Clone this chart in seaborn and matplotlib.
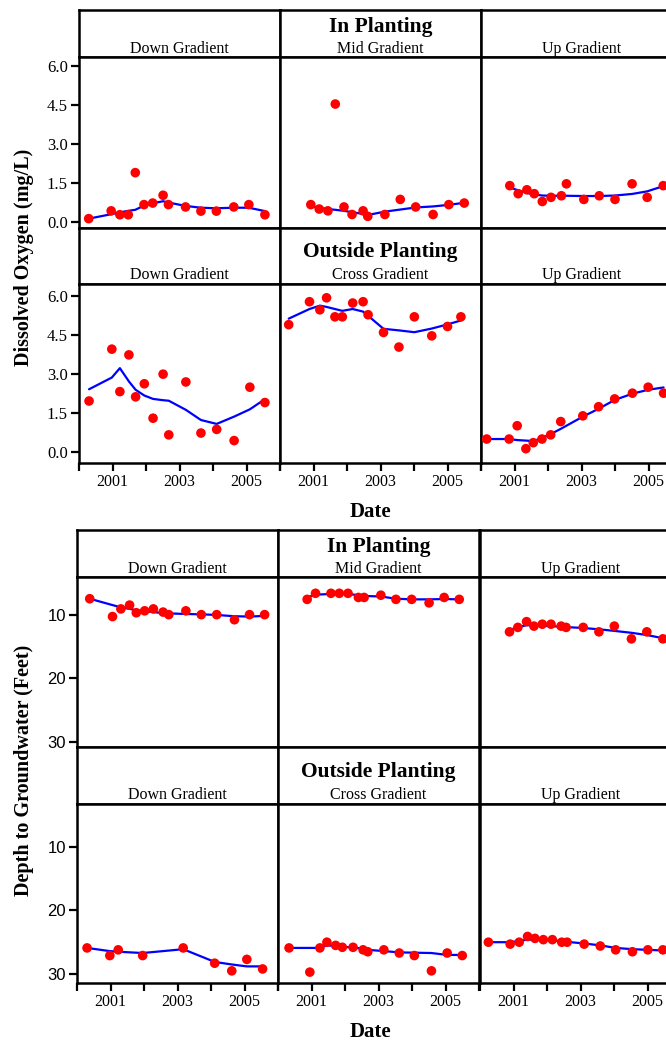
import pandas as pd
import seaborn as sns
import matplotlib.pyplot as plt

# ---------------- Dissolved oxygen (mg/L) ----------------
# In Planting
do_in_down_t = [2000.29, 2000.96, 2001.22, 2001.47, 2001.68, 2001.94, 2002.20, 2002.51,
                2002.67, 2003.18, 2003.64, 2004.10, 2004.62, 2005.07, 2005.55]
do_in_down_y = [0.13, 0.43, 0.28, 0.28, 1.90, 0.67, 0.73, 1.03, 0.67, 0.58, 0.42, 0.42,
                0.58, 0.67, 0.28]
do_in_down_fit = [0.13, 0.30, 0.37, 0.43, 0.47, 0.63, 0.72, 0.80, 0.75, 0.62, 0.55, 0.53,
                  0.55, 0.55, 0.42]

do_in_mid_t = [2000.92, 2001.17, 2001.43, 2001.65, 2001.91, 2002.15, 2002.48, 2002.62,
               2003.13, 2003.59, 2004.05, 2004.57, 2005.04, 2005.50]
do_in_mid_y = [0.67, 0.50, 0.43, 4.54, 0.58, 0.29, 0.43, 0.22, 0.29, 0.87, 0.58, 0.29,
               0.67, 0.73]
do_in_mid_fit = [0.60, 0.55, 0.50, 0.47, 0.43, 0.38, 0.31, 0.27, 0.40, 0.48, 0.56, 0.60,
                 0.66, 0.74]

do_in_up_t = [2000.86, 2001.11, 2001.37, 2001.59, 2001.83, 2002.09, 2002.40, 2002.55,
              2003.07, 2003.53, 2004.00, 2004.51, 2004.96, 2005.44]
do_in_up_y = [1.40, 1.09, 1.24, 1.09, 0.79, 0.95, 1.01, 1.47, 0.87, 1.01, 0.87, 1.47,
              0.95, 1.40]
do_in_up_fit = [1.33, 1.22, 1.12, 1.06, 1.02, 1.01, 1.01, 1.01, 1.00, 1.00, 1.02, 1.08,
                1.18, 1.38]

# Outside Planting
do_out_down_t = [2000.30, 2000.98, 2001.22, 2001.49, 2001.69, 2001.95, 2002.21, 2002.51,
                 2002.68, 2003.19, 2003.64, 2004.11, 2004.63, 2005.10, 2005.55]
do_out_down_y = [1.97, 3.96, 2.33, 3.74, 2.13, 2.63, 1.31, 3.00, 0.67, 2.70, 0.74, 0.88,
                 0.45, 2.50, 1.91]
do_out_down_fit = [2.42, 2.87, 3.23, 2.72, 2.40, 2.18, 2.05, 2.00, 1.98, 1.63, 1.24, 1.09,
                   1.37, 1.65, 2.04]

do_out_cross_t = [2000.26, 2000.88, 2001.19, 2001.39, 2001.64, 2001.86, 2002.17, 2002.48,
                  2002.63, 2003.09, 2003.55, 2004.01, 2004.53, 2005.00, 2005.40]
do_out_cross_y = [4.90, 5.78, 5.47, 5.93, 5.20, 5.20, 5.73, 5.78, 5.28, 4.60, 4.04, 5.20,
                  4.47, 4.83, 5.20]
do_out_cross_fit = [5.13, 5.50, 5.63, 5.58, 5.50, 5.43, 5.50, 5.40, 5.24, 4.74, 4.68, 4.61,
                    4.75, 4.91, 5.06]

do_out_up_t = [2000.17, 2000.84, 2001.08, 2001.34, 2001.56, 2001.82, 2002.08, 2002.38,
               2003.04, 2003.51, 2003.99, 2004.52, 2004.99, 2005.45]
do_out_up_y = [0.51, 0.51, 1.02, 0.14, 0.37, 0.51, 0.67, 1.18, 1.40, 1.75, 2.05, 2.27,
               2.50, 2.27]
do_out_up_fit = [0.51, 0.51, 0.47, 0.45, 0.43, 0.55, 0.70, 0.90, 1.37, 1.67, 2.01, 2.25,
                 2.40, 2.49]

# ---------------- Depth to groundwater (feet) ----------------
dg_in_down_t = [2000.38, 2001.06, 2001.31, 2001.57, 2001.77, 2002.02, 2002.28, 2002.57,
                2002.74, 2003.25, 2003.71, 2004.17, 2004.70, 2005.15, 2005.60]
dg_in_down_y = [7.5, 10.3, 9.1, 8.5, 9.7, 9.4, 9.1, 9.6, 10.0, 9.4, 10.0, 10.0, 10.8,
                10.0, 10.0]
dg_in_down_fit = [7.5, 8.5, 8.85, 9.1, 9.3, 9.45, 9.6, 9.75, 9.8, 9.9, 9.95, 10.05, 10.25,
                  10.3, 10.2]

dg_in_mid_t = [2000.87, 2001.12, 2001.58, 2001.83, 2002.09, 2002.40, 2002.57, 2003.07,
               2003.52, 2003.99, 2004.51, 2004.96, 2005.41]
dg_in_mid_y = [7.6, 6.65, 6.65, 6.65, 6.65, 7.3, 7.3, 6.95, 7.6, 7.6, 8.15, 7.3, 7.6]
dg_in_mid_fit = [7.3, 6.87, 6.75, 6.75, 6.75, 6.95, 7.07, 7.15, 7.5, 7.6, 7.6, 7.55, 7.6]

dg_in_up_t = [2000.88, 2001.13, 2001.39, 2001.61, 2001.86, 2002.12, 2002.42, 2002.57,
              2003.08, 2003.55, 2004.01, 2004.52, 2004.98, 2005.46]
dg_in_up_y = [12.7, 12.0, 11.1, 11.8, 11.5, 11.5, 11.8, 12.0, 12.0, 12.7, 11.8, 13.8,
              12.7, 13.8]
dg_in_up_fit = [12.4, 12.0, 11.65, 11.7, 11.75, 11.8, 11.9, 11.95, 12.1, 12.3, 12.55,
                12.85, 13.2, 13.7]

dg_out_down_t = [2000.30, 2000.98, 2001.23, 2001.96, 2003.17, 2004.11, 2004.62, 2005.07,
                 2005.54]
dg_out_down_y = [25.9, 27.1, 26.2, 27.1, 25.9, 28.3, 29.5, 27.7, 29.2]
dg_out_down_fit = [25.9, 26.4, 26.5, 26.7, 26.1, 28.1, 28.5, 28.8, 28.8]

dg_out_cross_t = [2000.33, 2000.95, 2001.25, 2001.46, 2001.72, 2001.92, 2002.24, 2002.54,
                  2002.68, 2003.16, 2003.62, 2004.07, 2004.58, 2005.05, 2005.50]
dg_out_cross_y = [25.9, 29.7, 25.9, 25.0, 25.5, 25.8, 25.8, 26.2, 26.5, 26.2, 26.7, 27.1,
                  29.5, 26.7, 27.1]
dg_out_cross_fit = [25.9, 25.9, 25.9, 25.5, 25.6, 25.7, 25.85, 26.0, 26.2, 26.4, 26.6,
                    26.65, 26.7, 27.0, 27.0]

dg_out_up_t = [2000.25, 2000.90, 2001.17, 2001.42, 2001.64, 2001.89, 2002.16, 2002.44,
               2002.60, 2003.11, 2003.59, 2004.05, 2004.55, 2005.01, 2005.46]
dg_out_up_y = [25.0, 25.3, 25.0, 24.1, 24.4, 24.6, 24.6, 25.0, 25.0, 25.3, 25.6, 26.2,
               26.5, 26.2, 26.2]
dg_out_up_fit = [25.0, 25.0, 24.8, 24.6, 24.6, 24.65, 24.7, 24.85, 24.95, 25.2, 25.5,
                 25.9, 26.1, 26.2, 26.3]

groups = ['In Planting', 'Outside Planting']
strips = [['Down Gradient', 'Mid Gradient', 'Up Gradient'],
          ['Down Gradient', 'Cross Gradient', 'Up Gradient']]
year_ticks = [2000, 2001, 2002, 2003, 2004, 2005, 2006]
year_labels = ['', '2001', '', '2003', '', '2005', '']

do_panels = [[(do_in_down_t, do_in_down_y, do_in_down_fit),
              (do_in_mid_t, do_in_mid_y, do_in_mid_fit),
              (do_in_up_t, do_in_up_y, do_in_up_fit)],
             [(do_out_down_t, do_out_down_y, do_out_down_fit),
              (do_out_cross_t, do_out_cross_y, do_out_cross_fit),
              (do_out_up_t, do_out_up_y, do_out_up_fit)]]
dg_panels = [[(dg_in_down_t, dg_in_down_y, dg_in_down_fit),
              (dg_in_mid_t, dg_in_mid_y, dg_in_mid_fit),
              (dg_in_up_t, dg_in_up_y, dg_in_up_fit)],
             [(dg_out_down_t, dg_out_down_y, dg_out_down_fit),
              (dg_out_cross_t, dg_out_cross_y, dg_out_cross_fit),
              (dg_out_up_t, dg_out_up_y, dg_out_up_fit)]]

sns.set_style('ticks')
plt.rcParams['font.family'] = ['Liberation Serif', 'DejaVu Serif']
plt.rcParams['axes.linewidth'] = 1.8
plt.rcParams['axes.edgecolor'] = 'black'
plt.rcParams['xtick.color'] = 'black'
plt.rcParams['ytick.color'] = 'black'
plt.rcParams['text.color'] = 'black'

W, H = 666, 1040
fig = plt.figure(figsize=(W / 100, H / 100), dpi=100)


def box(x0, y0, x1, y1):
    # pixel box (top-left origin) -> figure fraction rect
    return [x0 / W, 1 - y1 / H, (x1 - x0) / W, (y1 - y0) / H]


def draw_chart(panels, cols, rows, ylims, yticks, ylabels, tick_font, text_y, ylabel,
               ylabel_y, date_y, invert):
    colw = 201
    for r, (s_top, p_top, p_bot) in enumerate(rows):
        for c, x0 in enumerate(cols):
            # strip header
            axs = fig.add_axes(box(x0, s_top, x0 + colw, p_top))
            axs.set_xticks([])
            axs.set_yticks([])
            fig.text((x0 + colw / 2) / W, 1 - text_y[r][1] / H, strips[r][c],
                     ha='center', va='baseline', fontsize=11.5)
            if c == 1:
                fig.text((x0 + colw / 2) / W, 1 - text_y[r][0] / H, groups[r],
                         ha='center', va='baseline', fontsize=15.5, fontweight='bold')

            # panel
            ax = fig.add_axes(box(x0, p_top, x0 + colw, p_bot))
            t, y, fit = panels[r][c]
            sns.lineplot(x=t, y=fit, ax=ax, color='blue', lw=1.6, zorder=2)
            sns.scatterplot(x=t, y=y, ax=ax, color='red', s=48, edgecolor='none',
                            zorder=3)
            ax.set_xlim(2000, 2006)
            lo, hi = ylims[r]
            if invert:
                ax.set_ylim(hi, lo)
            else:
                ax.set_ylim(lo, hi)
            ax.set_xlabel('')
            ax.set_ylabel('')
            ax.tick_params(direction='out', length=6, width=1.6, pad=2, colors='black')
            if r == len(rows) - 1:
                ax.set_xticks(year_ticks)
                ax.set_xticklabels(year_labels, fontsize=11.5)
            else:
                ax.set_xticks([])
            if c == 0:
                ax.set_yticks(yticks)
                ax.set_yticklabels(ylabels, fontsize=12, family=tick_font)
            else:
                ax.set_yticks([])

    fig.text(24 / W, 1 - ylabel_y / H, ylabel, rotation=90, ha='center', va='center',
             fontsize=14.5, fontweight='bold')
    fig.text(370 / W, 1 - date_y / H, 'Date', ha='center', va='baseline',
             fontsize=15, fontweight='bold')


draw_chart(do_panels, cols=[79, 280, 481],
           rows=[(10, 57, 228), (228, 284, 463)],
           ylims=[(-0.23, 6.35), (-0.41, 6.46)],
           yticks=[0, 1.5, 3, 4.5, 6],
           ylabels=['0.0', '1.5', '3.0', '4.5', '6.0'],
           tick_font=['Liberation Serif'],
           text_y=[(32, 53), (257, 279)],
           ylabel='Dissolved Oxygen (mg/L)', ylabel_y=257, date_y=517, invert=False)

draw_chart(dg_panels, cols=[77, 278, 480],
           rows=[(530, 577, 747), (747, 804, 983)],
           ylims=[(4.09, 30.78), (3.29, 31.41)],
           yticks=[10, 20, 30],
           ylabels=['10', '20', '30'],
           tick_font=['Liberation Sans'],
           text_y=[(552, 573), (777, 799)],
           ylabel='Depth to Groundwater (Feet)', ylabel_y=770, date_y=1037, invert=True)

fig.savefig('out.png', dpi=100)
